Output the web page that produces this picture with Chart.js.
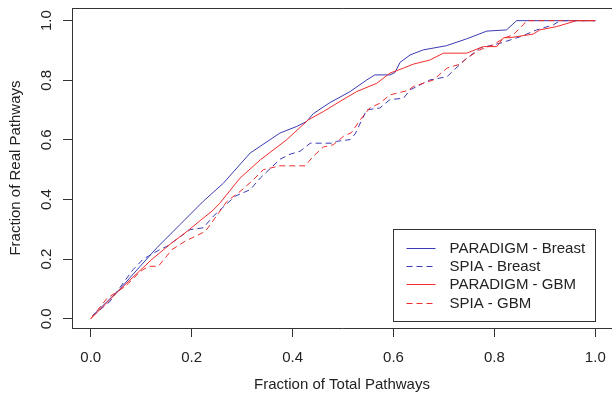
<!DOCTYPE html>
<html>
<head>
<meta charset="utf-8">
<title>Fraction of Real Pathways</title>
<script src="https://cdn.jsdelivr.net/npm/chart.js@4.4.1/dist/chart.umd.min.js"></script>
<style>
    html, body { margin: 0; padding: 0; background: #fff; }
    #wrap { width: 612px; height: 398px; }
</style>
</head>
<body>
<div id="wrap"><canvas id="myChart" width="612" height="398"></canvas></div>
<script>
/*-----------------------------Data-------------------------------------------------*/
const xTicks = [0, 0.2, 0.4, 0.6, 0.8, 1.0];
const yTicks = [0, 0.2, 0.4, 0.6, 0.8, 1.0];

const paradigmBreastX = [0.003, 0.058, 0.098, 0.131, 0.177, 0.223, 0.263, 0.316, 0.375, 0.408, 0.428, 0.441, 0.474, 0.514, 0.547, 0.563, 0.593, 0.603, 0.613, 0.633, 0.659, 0.705, 0.745, 0.785, 0.824, 0.844, 1.0];
const paradigmBreastY = [0.009, 0.100, 0.176, 0.238, 0.316, 0.394, 0.455, 0.556, 0.623, 0.645, 0.662, 0.688, 0.725, 0.762, 0.801, 0.818, 0.818, 0.826, 0.860, 0.885, 0.902, 0.916, 0.939, 0.965, 0.969, 1.0, 1.0];

const spiaBreastX = [0.003, 0.038, 0.058, 0.084, 0.104, 0.137, 0.151, 0.197, 0.223, 0.243, 0.286, 0.316, 0.336, 0.375, 0.395, 0.415, 0.435, 0.480, 0.487, 0.514, 0.524, 0.547, 0.573, 0.593, 0.620, 0.633, 0.672, 0.706, 0.738, 0.771, 0.811, 0.851, 0.884, 0.917, 0.930, 1.0];
const spiaBreastY = [0.008, 0.058, 0.105, 0.165, 0.200, 0.232, 0.243, 0.299, 0.305, 0.344, 0.411, 0.433, 0.472, 0.535, 0.552, 0.562, 0.589, 0.589, 0.595, 0.601, 0.620, 0.701, 0.707, 0.735, 0.740, 0.768, 0.801, 0.812, 0.863, 0.908, 0.924, 0.946, 0.969, 0.986, 1.0, 1.0];

const paradigmGbmX = [0.0, 0.058, 0.121, 0.161, 0.187, 0.203, 0.243, 0.256, 0.296, 0.336, 0.388, 0.431, 0.461, 0.494, 0.527, 0.567, 0.593, 0.620, 0.639, 0.672, 0.699, 0.745, 0.778, 0.805, 0.818, 0.831, 0.877, 0.890, 0.923, 0.963, 1.0];
const paradigmGbmY = [0.0, 0.098, 0.199, 0.255, 0.288, 0.310, 0.365, 0.388, 0.472, 0.533, 0.600, 0.667, 0.695, 0.729, 0.762, 0.790, 0.824, 0.841, 0.854, 0.868, 0.891, 0.891, 0.913, 0.913, 0.943, 0.943, 0.955, 0.969, 0.980, 1.0, 1.0];

const spiaGbmX = [0.0, 0.032, 0.068, 0.098, 0.114, 0.134, 0.161, 0.187, 0.227, 0.243, 0.270, 0.296, 0.319, 0.342, 0.375, 0.425, 0.441, 0.461, 0.481, 0.501, 0.517, 0.534, 0.553, 0.573, 0.593, 0.629, 0.639, 0.679, 0.706, 0.732, 0.745, 0.771, 0.798, 0.818, 0.837, 0.857, 0.864, 1.0];
const spiaGbmY = [0.0, 0.068, 0.108, 0.158, 0.176, 0.176, 0.232, 0.260, 0.293, 0.330, 0.394, 0.427, 0.461, 0.500, 0.513, 0.513, 0.545, 0.576, 0.584, 0.612, 0.625, 0.667, 0.707, 0.723, 0.751, 0.766, 0.779, 0.801, 0.841, 0.854, 0.874, 0.902, 0.919, 0.941, 0.952, 0.986, 1.0, 1.0];

const BLUE = '#3a3ab4';
const RED = '#f02c2c';

function toPoints(xs, ys) {
    return xs.map(function (x, i) { return { x: x, y: ys[i] }; });
}

/*-----------------------------Legend inside plot-------------------------------------------------*/
const boxLegend = {
    id: 'boxLegend',
    afterDraw: function (chart) {
        const ctx = chart.ctx;
        const xs = chart.scales.x, ys = chart.scales.y;
        const left = Math.round(xs.getPixelForValue(0.6)) + 0.5;
        const right = Math.round(xs.getPixelForValue(1.0)) + 0.5;
        const top = Math.round(ys.getPixelForValue(0.3)) + 0.5;
        const bottom = top + 92;
        ctx.save();
        ctx.fillStyle = '#fff';
        ctx.fillRect(left, top, right - left, bottom - top);
        ctx.strokeStyle = '#333';
        ctx.lineWidth = 1;
        ctx.strokeRect(left, top, right - left, bottom - top);
        ctx.font = '15px "Liberation Sans", Arial, sans-serif';
        ctx.textBaseline = 'middle';
        ctx.textAlign = 'left';
        chart.data.datasets.forEach(function (ds, i) {
            const cy = Math.round(top + 18 + i * 18.4) + 0.5;
            ctx.strokeStyle = ds.borderColor;
            ctx.setLineDash(ds.borderDash || []);
            ctx.beginPath();
            ctx.moveTo(left + 13, cy);
            ctx.lineTo(left + 42, cy);
            ctx.stroke();
            ctx.setLineDash([]);
            ctx.fillStyle = '#222';
            ctx.fillText(ds.label, left + 56, cy);
        });
        ctx.restore();
    }
};

/*-----------------------------Box and rotated y labels-------------------------------------------------*/
const plotFrame = {
    id: 'plotFrame',
    afterDraw: function (chart) {
        const ctx = chart.ctx;
        const a = chart.chartArea;
        ctx.save();
        ctx.strokeStyle = '#333';
        ctx.lineWidth = 1;
        ctx.beginPath();
        ctx.moveTo(a.left + 0.5, Math.round(a.top) + 0.5);
        ctx.lineTo(a.right + 5, Math.round(a.top) + 0.5);
        ctx.stroke();
        ctx.fillStyle = '#222';
        ctx.font = '15px "Liberation Sans", Arial, sans-serif';
        ctx.textAlign = 'center';
        ctx.textBaseline = 'alphabetic';
        yTicks.forEach(function (v) {
            const py = chart.scales.y.getPixelForValue(v);
            ctx.save();
            ctx.translate(50.5, py);
            ctx.rotate(-Math.PI / 2);
            ctx.fillText(v.toFixed(1), 0, 0);
            ctx.restore();
        });
        ctx.restore();
    }
};

/*-----------------------------Chart-------------------------------------------------*/
Chart.defaults.font.family = '"Liberation Sans", Arial, sans-serif';
Chart.defaults.font.size = 15;
Chart.defaults.color = '#222';

let myChart = document.getElementById('myChart').getContext('2d');

let pathwayChart = new Chart(myChart, {
    type: 'scatter',
    data: {
        datasets: [{
            label: 'PARADIGM - Breast',
            data: toPoints(paradigmBreastX, paradigmBreastY),
            borderColor: BLUE,
            order: 3
        }, {
            label: 'SPIA - Breast',
            data: toPoints(spiaBreastX, spiaBreastY),
            borderColor: BLUE,
            borderDash: [6, 4],
            order: 2
        }, {
            label: 'PARADIGM - GBM',
            data: toPoints(paradigmGbmX, paradigmGbmY),
            borderColor: RED,
            order: 1
        }, {
            label: 'SPIA - GBM',
            data: toPoints(spiaGbmX, spiaGbmY),
            borderColor: RED,
            borderDash: [6, 4],
            order: 0
        }].map(function (ds) {
            ds.showLine = true;
            ds.borderWidth = 1;
            ds.pointRadius = 0;
            ds.pointHoverRadius = 0;
            ds.tension = 0;
            ds.fill = false;
            ds.backgroundColor = ds.borderColor;
            return ds;
        })
    },
    options: {
        responsive: false,
        animation: false,
        layout: { padding: { top: 8, right: 0, bottom: 0, left: 0 } },
        plugins: {
            legend: { display: false },
            tooltip: { enabled: false }
        },
        scales: {
            x: {
                type: 'linear',
                min: -0.0371,
                max: 1.0331,
                afterBuildTicks: function (scale) {
                    scale.ticks = xTicks.map(function (v) { return { value: v }; });
                },
                afterFit: function (scale) {
                    scale.height = 70;
                    scale.paddingLeft = 0;
                    scale.paddingRight = 0;
                },
                ticks: {
                    padding: 12,
                    maxRotation: 0,
                    callback: function (v) { return Number(v).toFixed(1); }
                },
                grid: {
                    drawOnChartArea: false,
                    drawTicks: true,
                    tickLength: 9,
                    color: '#333'
                },
                border: { display: true, color: '#333' },
                title: {
                    display: true,
                    text: 'Fraction of Total Pathways',
                    padding: { top: 0, bottom: 4 }
                }
            },
            y: {
                type: 'linear',
                min: -0.031,
                max: 1.0425,
                afterBuildTicks: function (scale) {
                    scale.ticks = yTicks.map(function (v) { return { value: v }; });
                },
                afterFit: function (scale) {
                    scale.width = 72;
                    scale.paddingTop = 0;
                    scale.paddingBottom = 0;
                },
                ticks: { display: false },
                grid: {
                    drawOnChartArea: false,
                    drawTicks: true,
                    tickLength: 9,
                    color: '#333'
                },
                border: { display: true, color: '#333' },
                title: {
                    display: true,
                    text: 'Fraction of Real Pathways',
                    padding: { top: 7, bottom: 0 }
                }
            }
        }
    },
    plugins: [plotFrame, boxLegend]
});
</script>
</body>
</html>
